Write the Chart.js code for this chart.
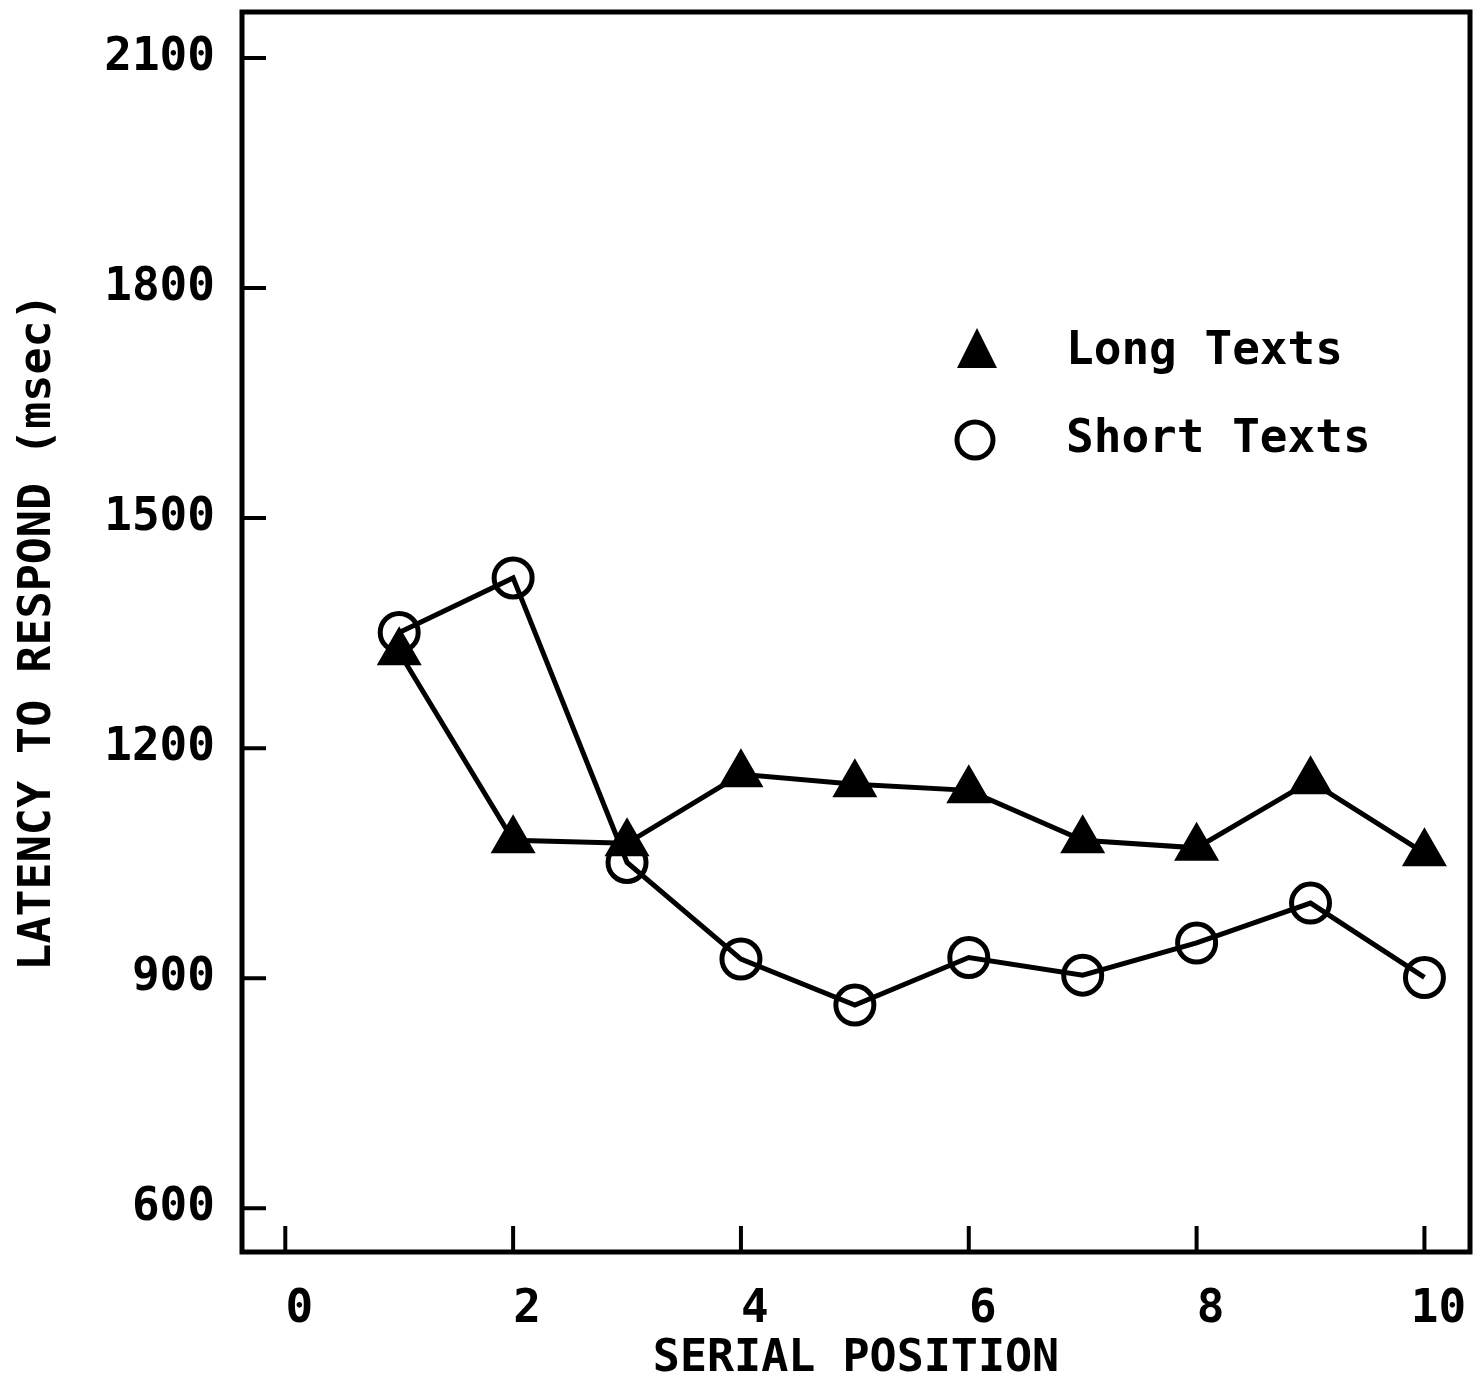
<!DOCTYPE html>
<html>
<head>
<meta charset="utf-8">
<script src="https://cdn.jsdelivr.net/npm/chart.js@4/dist/chart.umd.min.js"></script>
<style>
  html, body { margin: 0; padding: 0; background: #fff; }
  #wrap { width: 1477px; height: 1382px; }
</style>
</head>
<body>
<div id="wrap"><canvas id="latency"></canvas></div>
<script>
// serial positions and mean latencies (msec)
const positions = [1, 2, 3, 4, 5, 6, 7, 8, 9, 10];
const longTexts = [1325, 1080, 1076, 1166, 1153, 1145, 1080, 1070, 1157, 1063];
const shortTexts = [1351, 1422, 1051, 925, 865, 927, 904, 946, 998, 901];

const xTicks = [0, 2, 4, 6, 8, 10];
const yTicks = [600, 900, 1200, 1500, 1800, 2100];

const seriesNames = ["Long Texts", "Short Texts"];

const MONO = "'DejaVu Sans Mono', 'Liberation Mono', monospace";
const INK = "#000";

const toPoints = (vals) => vals.map((v, i) => ({ x: positions[i], y: v }));

// keep tick labels from pushing the plot area inwards
const noEdgePadding = (s) => {
  s.paddingLeft = s.paddingRight = s.paddingTop = s.paddingBottom = 0;
};

// frame round the plot plus inward tick marks
const frameAndTicks = {
  id: "frameAndTicks",
  afterDraw(chart) {
    const { ctx, chartArea: a, scales } = chart;
    ctx.save();
    ctx.strokeStyle = INK;
    ctx.lineWidth = 5;
    ctx.strokeRect(a.left, a.top, a.right - a.left, a.bottom - a.top);
    ctx.lineWidth = 4;
    ctx.beginPath();
    yTicks.forEach(v => {
      const y = scales.y.getPixelForValue(v);
      ctx.moveTo(a.left, y);
      ctx.lineTo(a.left + 24, y);
    });
    xTicks.forEach(v => {
      const x = scales.x.getPixelForValue(v);
      ctx.moveTo(x, a.bottom);
      ctx.lineTo(x, a.bottom - 26);
    });
    ctx.stroke();
    ctx.restore();
  }
};

// legend sitting inside the plot, upper right
const innerLegend = {
  id: "innerLegend",
  afterDraw(chart) {
    const { ctx } = chart;
    const mx = 977, tx = 1066;
    const rows = [352, 440];
    ctx.save();
    ctx.fillStyle = INK;
    ctx.strokeStyle = INK;
    // filled triangle
    ctx.beginPath();
    ctx.moveTo(mx, rows[0] - 24);
    ctx.lineTo(mx + 20, rows[0] + 16);
    ctx.lineTo(mx - 20, rows[0] + 16);
    ctx.closePath();
    ctx.fill();
    // open circle
    ctx.lineWidth = 5;
    ctx.beginPath();
    ctx.arc(mx - 2, rows[1], 18, 0, Math.PI * 2);
    ctx.stroke();
    ctx.font = "bold 46px " + MONO;
    ctx.textBaseline = "middle";
    ctx.textAlign = "left";
    seriesNames.forEach((name, i) => ctx.fillText(name, tx, rows[i]));
    ctx.restore();
  }
};

new Chart(document.getElementById("latency"), {
  type: "line",
  data: {
    datasets: [
      {
        label: seriesNames[1],
        data: toPoints(shortTexts),
        borderColor: INK,
        borderWidth: 5,
        pointStyle: "circle",
        pointRadius: 19,
        pointBorderWidth: 5,
        pointBorderColor: INK,
        pointBackgroundColor: "rgba(0,0,0,0)",
        tension: 0
      },
      {
        label: seriesNames[0],
        data: toPoints(longTexts),
        borderColor: INK,
        borderWidth: 5,
        pointStyle: "triangle",
        pointRadius: 24,
        pointBorderWidth: 2,
        pointBorderColor: INK,
        pointBackgroundColor: INK,
        tension: 0
      }
    ]
  },
  options: {
    responsive: true,
    maintainAspectRatio: false,
    animation: false,
    layout: { autoPadding: false, padding: { left: 0, top: 12, right: 7, bottom: 0 } },
    plugins: {
      legend: { display: false },
      tooltip: { enabled: false }
    },
    scales: {
      x: {
        type: "linear",
        min: -0.38,
        max: 10.4,
        afterBuildTicks: (s) => { s.ticks = xTicks.map(v => ({ value: v })); },
        afterFit: (s) => {
          s.height = 130;
          noEdgePadding(s);
        },
        grid: { display: false, drawTicks: false },
        border: { display: false },
        ticks: {
          color: INK,
          padding: 30,
          labelOffset: 14,
          maxRotation: 0,
          callback: (v) => String(v),
          font: { family: MONO, size: 46, weight: "bold" }
        },
        title: {
          display: true,
          text: "SERIAL POSITION",
          color: INK,
          padding: 0,
          font: { family: MONO, size: 45, weight: "bold", lineHeight: 1 }
        }
      },
      y: {
        min: 543,
        max: 2160,
        afterBuildTicks: (s) => { s.ticks = yTicks.map(v => ({ value: v })); },
        afterFit: (s) => {
          s.width = 242;
          noEdgePadding(s);
        },
        grid: { display: false, drawTicks: false },
        border: { display: false },
        ticks: {
          color: INK,
          padding: 27,
          callback: (v) => String(v),
          font: { family: MONO, size: 46, weight: "bold", lineHeight: 0.4 }
        },
        title: {
          display: true,
          text: "LATENCY TO RESPOND (msec)",
          color: INK,
          padding: { top: 16, bottom: 0 },
          font: { family: MONO, size: 45, weight: "bold", lineHeight: 1 }
        }
      }
    }
  },
  plugins: [frameAndTicks, innerLegend]
});
</script>
</body>
</html>
